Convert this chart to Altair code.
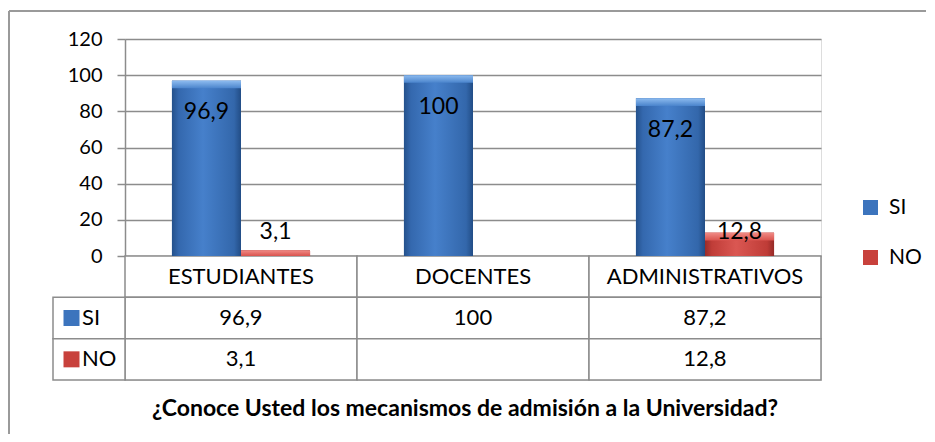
import altair as alt
import pandas as pd

# ---- data ----
categorias = ["ESTUDIANTES", "DOCENTES", "ADMINISTRATIVOS"]
series = ["SI", "NO"]
valores_si = [96.9, 100, 87.2]
valores_no = [3.1, None, 12.8]
titulo = "¿Conoce Usted los mecanismos de admisión a la Universidad?"
y_ticks = [0, 20, 40, 60, 80, 100, 120]

# ---- style ----
FONT = "Lato"
W, H = 696, 341          # view: bar plot + data table
PLOT_H = 217             # bar plot height
HEAD_W = 72              # row-header column width of the data table
GRID = "#8c8c8c"
BLUE, RED = "#3c74bd", "#c8413c"
FS_TICK, FS_TAB, FS_LAB, FS_LEG, FS_TIT = 20, 22, 23, 21, 23


def fmt(v):
    if v is None or pd.isna(v):
        return ""
    return f"{v:g}".replace(".", ",")


def hgrad(stops):
    return {"gradient": "linear", "x1": 0, "x2": 1, "y1": 0, "y2": 0,
            "stops": [{"offset": o, "color": c} for o, c in stops]}


def vgrad(stops):
    return {"gradient": "linear", "x1": 0, "x2": 0, "y1": 0, "y2": 1,
            "stops": [{"offset": o, "color": c} for o, c in stops]}


BLUE_G = hgrad([(0, "#24518c"), (0.1, "#3468ae"), (0.45, "#4680cb"), (0.9, "#3367ab"), (1, "#224d86")])
RED_G = hgrad([(0, "#992c29"), (0.1, "#c03d38"), (0.45, "#da5752"), (0.9, "#bf3c37"), (1, "#952a27")])
BLUE_CAP = vgrad([(0, "#8dbbef"), (1, "#4a84cc")])
RED_CAP = vgrad([(0, "#f08a85"), (1, "#d9534e")])

rows = []
for c, vs, vn in zip(categorias, valores_si, valores_no):
    rows.append({"cat": c, "serie": "SI", "value": vs, "label": fmt(vs)})
    rows.append({"cat": c, "serie": "NO", "value": vn, "label": fmt(vn)})
df = pd.DataFrame(rows)
bars_df = df.dropna(subset=["value"]).copy()

x_enc = alt.X("cat:N", scale=alt.Scale(domain=categorias, paddingInner=0, paddingOuter=0), axis=None)
xoff = alt.XOffset("serie:N", scale=alt.Scale(domain=series, paddingInner=0, paddingOuter=0.68))
y_scale = alt.Scale(domain=[0, 120], range=[PLOT_H, 0], nice=False, zero=True)

base = alt.Chart(bars_df)

bars_legend = base.mark_bar().encode(
    x=x_enc, xOffset=xoff,
    y=alt.Y("value:Q", scale=y_scale,
            axis=alt.Axis(values=y_ticks, grid=True, gridColor=GRID, gridWidth=1.5,
                          domainColor=GRID, domainWidth=1.5, tickColor=GRID, tickWidth=1.5,
                          tickSize=8, labelFont=FONT, labelFontSize=FS_TICK, labelColor="black",
                          labelPadding=15, title=None)),
    color=alt.Color("serie:N", scale=alt.Scale(domain=series, range=[BLUE, RED]),
                    legend=alt.Legend(title=None, orient="none", legendX=735, legendY=158,
                                      symbolType="square", symbolSize=225, symbolStrokeWidth=0,
                                      labelFont=FONT, labelFontSize=FS_LEG, labelColor="black",
                                      rowPadding=28, labelOffset=8)),
)


def grad_bars(serie, fill, cap):
    b = base.transform_filter(alt.datum.serie == serie)
    body = b.mark_bar(fill=fill).encode(x=x_enc, xOffset=xoff, y=alt.Y("value:Q", scale=y_scale))
    top = b.transform_calculate(cap="max(datum.value - 4.2, 0)").mark_bar(fill=cap).encode(
        x=x_enc, xOffset=xoff, y=alt.Y("value:Q", scale=y_scale), y2="cap:Q")
    return body + top


labels = base.transform_calculate(label_y="max(datum.value - 17.4, 13.3)").mark_text(
    font=FONT, fontSize=FS_LAB, color="black", baseline="middle").encode(
    x=x_enc, xOffset=xoff, y=alt.Y("label_y:Q", scale=y_scale), text="label:N")

bars_layer = alt.layer(bars_legend, grad_bars("SI", BLUE_G, BLUE_CAP),
                       grad_bars("NO", RED_G, RED_CAP), labels)

# ---- data table ----
t_scale = alt.Scale(domain=[0, 3], range=[PLOT_H, H], nice=False, zero=False)
cells = pd.DataFrame([{"cat": c, "r0": r, "r1": r + 1} for c in categorias for r in range(3)])
texts = pd.DataFrame(
    [{"cat": c, "rc": 0.5, "t": c} for c in categorias]
    + [{"cat": c, "rc": 1.5, "t": fmt(v)} for c, v in zip(categorias, valores_si)]
    + [{"cat": c, "rc": 2.5, "t": fmt(v)} for c, v in zip(categorias, valores_no)]
)
heads = pd.DataFrame([{"serie": s, "r0": i + 1, "r1": i + 2, "rc": i + 1.5,
                       "hex": col} for i, (s, col) in enumerate(zip(series, [BLUE, RED]))])

cell_layer = alt.Chart(cells).mark_rect(fill="white", stroke=GRID, strokeWidth=1.5).encode(
    x=x_enc, y=alt.Y("r0:Q", scale=t_scale, axis=None), y2="r1:Q")
head_cells = alt.Chart(heads).mark_rect(fill="white", stroke=GRID, strokeWidth=1.5).encode(
    x=alt.value(-HEAD_W), x2=alt.value(0), y=alt.Y("r0:Q", scale=t_scale, axis=None), y2="r1:Q")
text_layer = alt.Chart(texts).mark_text(font=FONT, fontSize=FS_TAB, color="black", baseline="middle").encode(
    x=x_enc, y=alt.Y("rc:Q", scale=t_scale, axis=None), text="t:N")
icons = alt.Chart(heads).mark_square(size=256, opacity=1, strokeWidth=0).encode(
    x=alt.value(-HEAD_W + 18.5), y=alt.Y("rc:Q", scale=t_scale, axis=None),
    color=alt.Color("hex:N", scale=None))
head_text = alt.Chart(heads).mark_text(font=FONT, fontSize=FS_TAB, color="black", align="left",
                                       baseline="middle").encode(
    x=alt.value(-HEAD_W + 29), y=alt.Y("rc:Q", scale=t_scale, axis=None), text="serie:N")

table_layer = alt.layer(cell_layer, head_cells, text_layer, icons, head_text)

# ---- title below the table ----
title_layer = alt.Chart(alt.Data(values=[{"t": titulo}])).mark_text(
    font=FONT, fontSize=FS_TIT, fontWeight="bold", color="black", baseline="middle").encode(
    x=alt.value(W / 2 - 8), y=alt.value(H + 29), text="t:N")

# ---- outer frame (top and left edges) ----
one = alt.Data(values=[{}])
frame_left = alt.Chart(one).mark_rule(color="#9a9a9a", strokeWidth=2).encode(
    x=alt.value(-116), y=alt.value(-28), y2=alt.value(H + 60))
frame_top = alt.Chart(one).mark_rule(color="#9a9a9a", strokeWidth=2).encode(
    x=alt.value(-116), x2=alt.value(W + 130), y=alt.value(-28))

chart = alt.layer(table_layer, bars_layer, title_layer, frame_left, frame_top).resolve_scale(
    y="independent"
).properties(
    width=W, height=H,
    autosize=alt.AutoSizeParams(type="none"),
    padding={"left": 117, "top": 31, "right": 105, "bottom": 54},
).configure_view(stroke=None).configure(background="white")

chart.save("out.html", embed_options={"renderer": "svg", "actions": False})
